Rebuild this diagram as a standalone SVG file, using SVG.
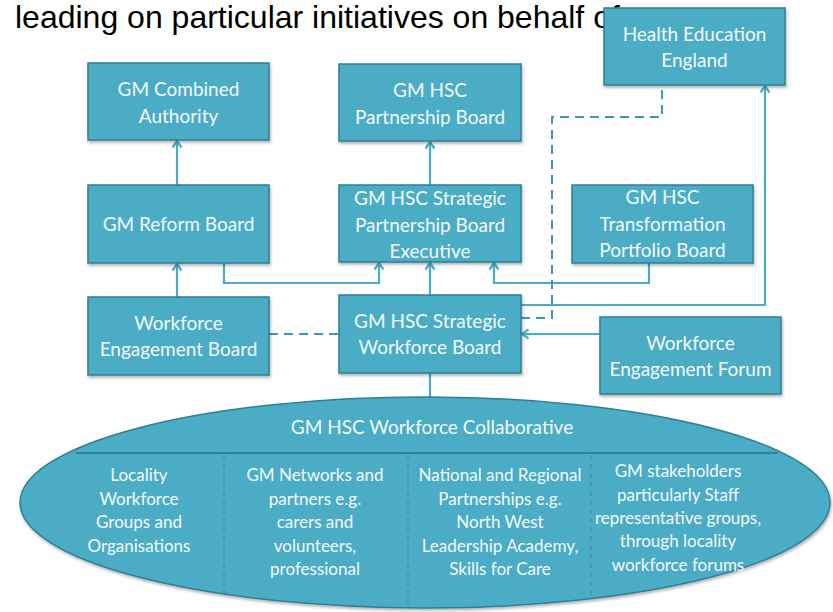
<svg xmlns="http://www.w3.org/2000/svg" width="833" height="612" viewBox="0 0 833 612">
<style>
.title{font-family:"Liberation Sans",Arial,sans-serif;font-size:32px;fill:#000}
.box{fill:#4BACC6;stroke:#2F7F95;stroke-width:1.5}
.bt{font-family:Lato,"Open Sans",sans-serif;font-size:19px;fill:#F4FAFC;text-anchor:middle}
.ct{font-family:Lato,"Open Sans",sans-serif;font-size:17px;fill:#F4FAFC;text-anchor:middle}
.ln{fill:none;stroke:#4BACC6;stroke-width:2.2}
.dash{fill:none;stroke:#3E98B0;stroke-width:2;stroke-dasharray:9 6}
.div{stroke:#3A8CA3;stroke-width:1;stroke-dasharray:5 4}
</style>
<defs>
<marker id="arr" viewBox="0 0 12 12" refX="10.5" refY="6" markerWidth="12" markerHeight="12" orient="auto" markerUnits="userSpaceOnUse">
<polyline points="4,1.5 10.5,6 4,10.5" fill="none" stroke="#4BACC6" stroke-width="2.2"/>
</marker>
<filter id="sh" x="-10%" y="-10%" width="125%" height="130%">
<feDropShadow dx="1" dy="2" stdDeviation="1.5" flood-color="#000" flood-opacity="0.3"/>
</filter>
</defs>
<rect width="833" height="612" fill="#FFFFFF"/>
<text class="title" x="15" y="28">leading on particular initiatives on behalf of</text>

<g id="connectors">
<path class="ln" d="M177,185 V141" marker-end="url(#arr)"/>
<path class="ln" d="M430,185 V142" marker-end="url(#arr)"/>
<path class="ln" d="M177,297 V264" marker-end="url(#arr)"/>
<path class="ln" d="M224,263 V283 H379 V263" marker-end="url(#arr)"/>
<path class="ln" d="M430,295 V263" marker-end="url(#arr)"/>
<path class="ln" d="M649,263 V283 H494 V263" marker-end="url(#arr)"/>
<path class="ln" d="M521,305 H765 V86" marker-end="url(#arr)"/>
<path class="dash" d="M521,318 H552 V117 H662 V86"/>
<path class="ln" d="M600,334 H522" marker-end="url(#arr)"/>
<path class="dash" d="M269,334 H339"/>
<path class="ln" d="M430,373 V398"/>
</g>

<g id="collaborative">
<ellipse cx="425" cy="502.5" rx="405" ry="105.5" fill="#4BACC6" stroke="#2F7F95" stroke-width="1.5" filter="url(#sh)"/>
<line x1="76" y1="453" x2="778" y2="453" stroke="#357F93" stroke-width="2"/>
<line class="div" x1="224" y1="455" x2="224" y2="594"/>
<line class="div" x1="408" y1="455" x2="408" y2="607"/>
<line class="div" x1="591" y1="455" x2="591" y2="598"/>
<text class="bt" x="432" y="434">GM HSC Workforce Collaborative</text>
<text class="ct" x="139"><tspan x="139" y="481">Locality</tspan><tspan x="139" y="504.5">Workforce</tspan><tspan x="139" y="528">Groups and</tspan><tspan x="139" y="551.5">Organisations</tspan></text>
<text class="ct" x="315"><tspan x="315" y="481">GM Networks and</tspan><tspan x="315" y="504.5">partners e.g.</tspan><tspan x="315" y="528">carers and</tspan><tspan x="315" y="551.5">volunteers,</tspan><tspan x="315" y="575">professional</tspan></text>
<text class="ct" x="500"><tspan x="500" y="481">National and Regional</tspan><tspan x="500" y="504.5">Partnerships e.g.</tspan><tspan x="500" y="528">North West</tspan><tspan x="500" y="551.5">Leadership Academy,</tspan><tspan x="500" y="575">Skills for Care</tspan></text>
<text class="ct" x="678"><tspan x="678" y="477">GM stakeholders</tspan><tspan x="678" y="500.5">particularly Staff</tspan><tspan x="678" y="524">representative groups,</tspan><tspan x="678" y="547">through locality</tspan><tspan x="678" y="570.5">workforce forums</tspan></text>
</g>

<g id="combined-authority">
<rect class="box" x="88" y="63" width="181" height="77" filter="url(#sh)"/>
<text class="bt"><tspan x="178.5" y="96">GM Combined</tspan><tspan x="178.5" y="122.5">Authority</tspan></text>
</g>
<g id="partnership-board">
<rect class="box" x="339" y="64" width="182" height="77" filter="url(#sh)"/>
<text class="bt"><tspan x="430" y="97">GM HSC</tspan><tspan x="430" y="123.5">Partnership Board</tspan></text>
</g>
<g id="health-education-england">
<rect class="box" x="604" y="8" width="181" height="77" filter="url(#sh)"/>
<text class="bt"><tspan x="694.5" y="40.5">Health Education</tspan><tspan x="694.5" y="67">England</tspan></text>
</g>
<g id="reform-board">
<rect class="box" x="88" y="185" width="181" height="78" filter="url(#sh)"/>
<text class="bt" x="178.5" y="231">GM Reform Board</text>
</g>
<g id="strategic-partnership-exec">
<rect class="box" x="339" y="185" width="182" height="77" filter="url(#sh)"/>
<text class="bt"><tspan x="430" y="205">GM HSC Strategic</tspan><tspan x="430" y="231.5">Partnership Board</tspan><tspan x="430" y="257.5">Executive</tspan></text>
</g>
<g id="transformation-portfolio-board">
<rect class="box" x="572" y="185" width="181" height="78" filter="url(#sh)"/>
<text class="bt"><tspan x="662.5" y="203.5">GM HSC</tspan><tspan x="662.5" y="230.5">Transformation</tspan><tspan x="662.5" y="257">Portfolio Board</tspan></text>
</g>
<g id="workforce-engagement-board">
<rect class="box" x="88" y="297" width="181" height="78" filter="url(#sh)"/>
<text class="bt"><tspan x="178.5" y="329.5">Workforce</tspan><tspan x="178.5" y="355.5">Engagement Board</tspan></text>
</g>
<g id="strategic-workforce-board">
<rect class="box" x="339" y="295" width="182" height="78" filter="url(#sh)"/>
<text class="bt"><tspan x="430" y="327.5">GM HSC Strategic</tspan><tspan x="430" y="354">Workforce Board</tspan></text>
</g>
<g id="workforce-engagement-forum">
<rect class="box" x="600" y="317" width="181" height="77" filter="url(#sh)"/>
<text class="bt"><tspan x="690.5" y="350">Workforce</tspan><tspan x="690.5" y="375.5">Engagement Forum</tspan></text>
</g>
</svg>
